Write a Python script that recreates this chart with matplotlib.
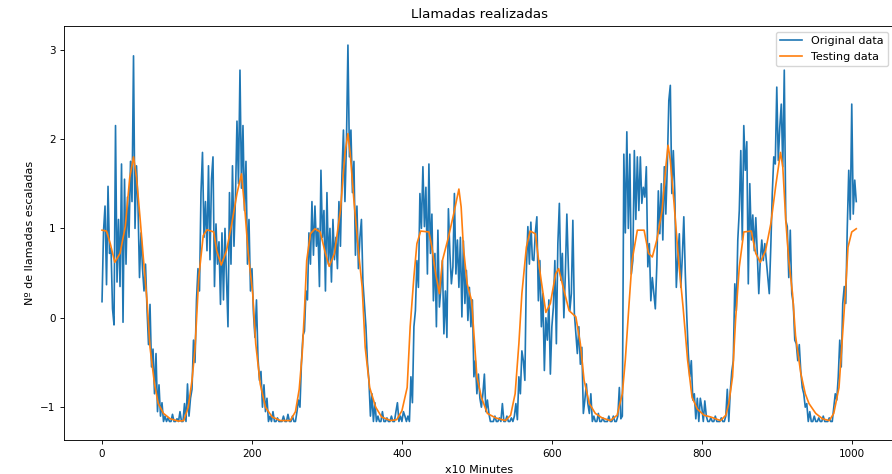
import numpy as np
import matplotlib
matplotlib.use("Agg")
import matplotlib.pyplot as plt

# serie original (cada 2 muestras, x10 minutos)
original_values = [
    0.18, 0.97, 1.25, 0.37, 1.47, 0.72, 0.78, 0.10, -0.08, 2.15, 0.40, 1.10, 0.35, 1.72, -0.05, 1.55, 0.60, 1.35, 0.90, 1.75,
    1.30, 2.93, 1.00, 1.70, 1.25, 0.45, 0.95, 0.55, 0.30, 0.60, 0.10, -0.30, 0.15, -0.55, -0.35, -0.85, -0.40, -1.05, -0.75, -1.10,
    -0.95, -1.16, -1.10, -1.16, -1.12, -1.16, -1.16, -1.08, -1.16, -1.16, -1.13, -1.16, -1.05, -1.16, -1.16, -0.96, -1.16, -0.74, -1.10, -0.90,
    -0.80, -0.25, -0.50, 0.20, 0.55, 0.30, 1.40, 1.85, 0.90, 1.30, 0.75, 1.70, 0.65, 1.55, 1.80, 0.35, 1.05, 0.60, 0.85, 0.15,
    0.95, 0.20, 1.00, 0.45, -0.10, 1.40, 0.60, 1.70, 0.80, 1.35, 2.20, 1.50, 2.77, 1.45, 2.15, 1.20, 1.75, 0.60, 1.10, 0.30,
    0.55, 0.05, -0.22, 0.20, -0.45, -0.70, -0.60, -1.00, -0.75, -1.05, -0.90, -1.16, -1.10, -1.16, -1.05, -1.16, -1.16, -1.12, -1.16, -1.16,
    -1.16, -1.10, -1.16, -1.16, -1.08, -1.16, -1.16, -1.10, -1.16, -1.16, -1.05, -0.92, -1.00, -0.50, -0.20, -0.15, 0.30, 0.20, 0.95, 0.60,
    1.30, 0.70, 1.25, 0.80, 1.00, 0.35, 1.65, 0.90, 1.20, 0.30, 1.40, 0.60, 1.00, 0.40, 1.10, 0.65, 0.90, 0.55, 1.30, 0.80,
    1.60, 2.10, 1.30, 1.95, 3.05, 1.80, 2.10, 1.40, 1.75, 0.70, 1.25, 0.55, 0.90, 1.10, 0.40, 0.15, -0.10, -0.50, -0.70, -1.10,
    -0.85, -1.16, -0.95, -1.16, -1.10, -1.16, -1.16, -1.05, -1.16, -1.16, -1.12, -1.16, -1.16, -1.10, -1.16, -1.16, -1.05, -0.95, -1.16, -1.10,
    -1.16, -1.05, -1.10, -1.16, -1.10, -1.16, -0.66, -0.95, -0.10, 0.08, 0.64, 0.34, 1.39, 1.00, 1.69, 1.02, 1.46, 0.49, 1.72, 0.72,
    1.16, 0.19, 0.72, -0.10, 0.98, 0.12, 0.34, 0.64, -0.18, 0.30, -0.22, 1.22, 0.72, 0.38, 0.57, 1.39, 0.49, 0.87, 0.34, 0.90,
    0.01, 0.86, 0.16, 0.53, -0.03, 0.34, -0.10, 0.20, -0.66, -0.48, -0.85, -0.63, -0.90, -1.00, -0.85, -0.63, -1.05, -0.92, -1.07, -1.16,
    -1.16, -1.16, -1.10, -1.16, -1.16, -1.12, -1.16, -0.96, -1.16, -1.16, -1.10, -1.16, -1.16, -1.12, -1.16, -1.10, -0.96, -1.14, -0.66, -0.85,
    -0.37, -0.48, -0.70, 0.53, 1.02, 0.60, 1.07, 0.65, 0.64, 0.96, 1.13, 0.19, 0.64, -0.10, 0.27, -0.59, 0.00, -0.25, 0.20, -0.63,
    -0.10, 0.12, 0.64, -0.29, 0.83, 1.28, 0.42, 0.72, 0.00, 0.50, 1.16, 0.57, 0.08, 0.27, 1.09, 0.05, -0.18, -0.40, -0.10, -0.52,
    -0.33, -1.07, -0.92, -0.74, -0.96, -1.07, -0.85, -1.16, -1.10, -1.16, -1.16, -1.07, -1.16, -1.16, -1.12, -1.16, -1.16, -1.16, -1.10, -1.16,
    -1.16, -1.10, -1.16, -1.16, -1.10, -0.78, -1.13, -1.10, 1.83, 0.95, 2.08, 1.00, 1.83, 0.49, 0.64, 1.87, 1.10, 1.80, 1.20, 1.80,
    1.28, 1.46, 1.35, 1.69, 0.57, 0.83, 0.19, 0.45, 0.27, 0.10, 0.59, 1.42, 0.94, 1.50, 0.87, 1.69, 1.16, 1.70, 2.43, 2.60,
    1.39, 1.87, 1.39, 0.34, 0.68, 0.94, 0.34, 0.68, 1.13, 0.49, 0.01, -0.40, -0.66, -0.48, -0.92, -0.85, -1.13, -0.90, -1.16, -0.90,
    -1.00, -1.16, -0.93, -1.10, -1.16, -1.16, -1.12, -1.16, -1.16, -1.10, -1.16, -1.16, -1.16, -1.12, -1.16, -1.16, -1.10, -0.80, -1.16, -0.82,
    -0.60, -0.48, 0.38, 0.08, 0.87, 1.20, 1.87, 0.87, 2.15, 1.65, 1.97, 0.38, 1.50, 0.87, 1.15, 0.75, 1.12, 0.72, 0.27, 0.64,
    0.87, 0.64, 0.83, 0.64, 0.45, 0.27, 0.79, 1.39, 1.80, 1.72, 2.58, 1.76, 2.13, 2.39, 1.69, 2.77, 1.09, 1.02, 0.45, 0.98,
    0.27, 0.16, -0.25, -0.29, -0.48, -0.30, -0.60, -0.78, -0.85, -1.00, -0.96, -1.16, -1.05, -1.16, -1.16, -1.10, -1.16, -1.16, -1.12, -1.16,
    -1.16, -1.10, -1.16, -1.16, -1.16, -1.12, -1.16, -1.16, -1.00, -0.85, -0.92, -0.66, -0.25, -0.55, 0.16, 0.35, 0.16, 1.00, 1.65, 1.10,
    2.39, 1.16, 1.54, 1.30,
]
original_step = 2

# prediccion
testing_x = [0, 6, 11, 17, 24, 31, 37, 42, 46, 51, 55, 60, 64, 70, 75, 82, 91, 102, 109, 115,
             120, 124, 129, 135, 140, 149, 153, 159, 166, 173, 180, 186, 191, 195, 201, 205, 211, 218, 227, 238,
             251, 258, 263, 267, 270, 273, 278, 284, 291, 298, 303, 310, 318, 324, 328, 331, 336, 342, 347, 351,
             357, 365, 373, 385, 393, 400, 407, 411, 416, 420, 425, 436, 440, 445, 450, 454, 462, 469, 476, 479,
             482, 487, 493, 497, 500, 506, 514, 525, 538, 545, 551, 556, 560, 566, 571, 578, 585, 592, 598, 605,
             609, 616, 623, 632, 638, 643, 650, 658, 667, 678, 687, 694, 698, 703, 707, 714, 723, 729, 734, 740,
             747, 752, 755, 758, 763, 769, 775, 781, 787, 794, 803, 812, 825, 832, 836, 841, 845, 850, 856, 866,
             872, 878, 885, 892, 899, 905, 908, 912, 916, 921, 925, 932, 938, 943, 952, 961, 970, 976, 983, 987,
             992, 995, 1000, 1006]
testing_y = [0.98, 0.97, 0.83, 0.62, 0.72, 1.02, 1.57, 1.80, 1.57, 1.09, 0.68, 0.19, -0.33, -0.74, -0.96, -1.07, -1.13, -1.156, -1.15, -1.00,
             -0.70, -0.35, 0.45, 0.92, 0.985, 0.96, 0.75, 0.59, 0.75, 1.05, 1.39, 1.61, 1.16, 0.72, 0.27, -0.29, -0.74, -1.00, -1.11, -1.15,
             -1.15, -1.05, -0.80, -0.40, 0.08, 0.64, 0.94, 0.995, 0.96, 0.72, 0.575, 0.72, 1.20, 1.84, 2.06, 1.84, 1.31, 0.75, 0.34, -0.33,
             -0.78, -1.00, -1.11, -1.15, -1.14, -1.04, -0.78, -0.10, 0.46, 0.83, 0.97, 0.96, 0.79, 0.49, 0.27, 0.64, 0.90, 1.16, 1.44, 1.24,
             0.79, 0.38, 0.19, -0.29, -0.66, -0.89, -1.07, -1.12, -1.15, -1.09, -0.85, -0.29, 0.27, 0.79, 0.97, 0.94, 0.46, 0.06, 0.16, 0.49,
             0.55, 0.31, 0.08, 0.01, -0.29, -0.70, -0.96, -1.07, -1.12, -1.15, -1.09, -0.85, -0.47, 0.16, 0.64, 0.98, 0.98, 0.72, 0.68, 0.87,
             1.20, 1.69, 1.93, 1.76, 1.28, 0.64, 0.12, -0.47, -0.89, -1.02, -1.09, -1.11, -1.15, -1.09, -0.96, -0.66, -0.03, 0.57, 0.96, 0.97,
             0.72, 0.62, 0.75, 1.05, 1.50, 1.85, 1.69, 1.09, 0.64, 0.27, -0.20, -0.62, -0.85, -0.96, -1.07, -1.13, -1.15, -1.07, -0.78, -0.29,
             0.34, 0.79, 0.96, 0.996]

original_x = np.arange(len(original_values)) * original_step

fig = plt.figure(figsize=(8.92, 4.74), dpi=100)
ax = fig.add_axes([0.0721, 0.0711, 0.9301, 0.8734])

ax.plot(original_x, original_values, color="#1f77b4", lw=1.2, label="Original data")
ax.plot(testing_x, testing_y, color="#ff7f0e", lw=1.2, label="Testing data")

ax.set_title("Llamadas realizadas", fontsize=9.6)
ax.set_xlabel("x10 Minutes", fontsize=8)
ax.set_ylabel("Nº de llamadas escaladas", fontsize=8)
ax.set_xticks([0, 200, 400, 600, 800, 1000])
ax.set_yticks([-1, 0, 1, 2, 3])
ax.tick_params(labelsize=7.5, length=2.8, width=0.64)
for s in ax.spines.values():
    s.set_linewidth(0.64)

ax.legend(loc="upper right", fontsize=8)

fig.savefig("out.png", dpi=100)
